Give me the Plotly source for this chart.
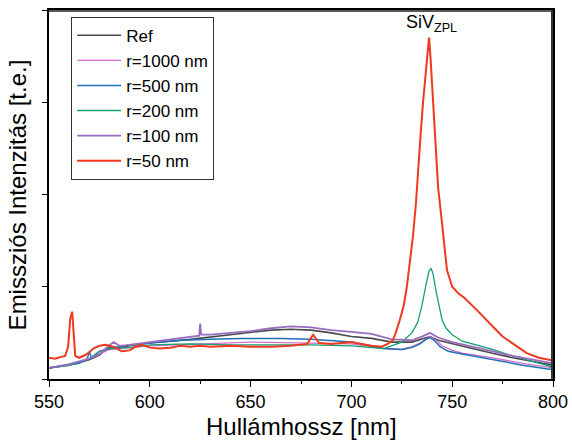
import plotly.graph_objects as go

# ---- data ----
ref_x = [550, 560, 570, 575, 580, 585, 590, 600, 620, 640, 660, 670, 680, 690, 700, 710, 720, 730, 735, 739, 743, 750, 760, 770, 780, 790, 800]
ref_y = [0.12, 0.15, 0.21, 0.26, 0.35, 0.34, 0.36, 0.39, 0.43, 0.48, 0.53, 0.54, 0.53, 0.50, 0.46, 0.44, 0.40, 0.40, 0.43, 0.46, 0.42, 0.38, 0.33, 0.28, 0.23, 0.19, 0.15]

r1000_x = [550, 560, 570, 580, 600, 650, 700, 716, 725, 730, 735, 739, 742, 745, 750, 755, 770, 785, 800]
r1000_y = [0.12, 0.15, 0.22, 0.32, 0.36, 0.40, 0.38, 0.33, 0.32, 0.35, 0.40, 0.46, 0.42, 0.36, 0.31, 0.28, 0.23, 0.17, 0.12]

r500_x = [550, 560, 565, 569, 570, 571, 575, 580, 590, 600, 616, 630, 645, 665, 680, 700, 710, 716, 725, 730, 734, 737, 739, 741, 744, 748, 755, 770, 785, 800]
r500_y = [0.12, 0.15, 0.17, 0.22, 0.30, 0.23, 0.30, 0.33, 0.37, 0.39, 0.42, 0.43, 0.44, 0.44, 0.43, 0.40, 0.36, 0.33, 0.32, 0.34, 0.38, 0.43, 0.45, 0.42, 0.35, 0.30, 0.27, 0.21, 0.15, 0.10]

r200_x = [550, 560, 570, 575, 580, 590, 600, 620, 640, 660, 680, 700, 716, 725, 730, 733, 735, 737, 738.5, 739.5, 740.5, 742, 743.5, 745, 747, 750, 755, 760, 770, 780, 790, 800]
r200_y = [0.12, 0.15, 0.22, 0.30, 0.33, 0.34, 0.37, 0.38, 0.37, 0.37, 0.37, 0.36, 0.33, 0.40, 0.50, 0.62, 0.80, 1.02, 1.17, 1.20, 1.14, 0.95, 0.78, 0.64, 0.55, 0.48, 0.41, 0.38, 0.32, 0.25, 0.19, 0.13]

r100_x = [550, 560, 570, 575, 578, 582, 585, 590, 600, 610, 620, 624.5, 625, 625.5, 630, 640, 650, 660, 670, 680, 690, 700, 710, 720, 730, 735, 739, 743, 750, 760, 770, 780, 790, 800]
r100_y = [0.12, 0.16, 0.22, 0.27, 0.33, 0.40, 0.36, 0.37, 0.40, 0.43, 0.46, 0.47, 0.60, 0.48, 0.48, 0.50, 0.52, 0.55, 0.57, 0.56, 0.53, 0.51, 0.49, 0.43, 0.42, 0.46, 0.50, 0.45, 0.40, 0.35, 0.30, 0.25, 0.21, 0.17]

r50_x = [550, 553, 556, 558, 559.5, 560.5, 561.5, 562.3, 563, 565, 568, 570, 572, 575, 578, 580, 583, 586, 590, 593, 596, 600, 605, 610, 615, 620, 625, 630, 640, 650, 660, 670, 678, 681, 684, 690, 700, 705, 710, 715, 718, 720.5, 722, 724, 726, 727.5, 729, 730.5, 732, 733, 734.5, 735.5, 736.5, 737.5, 738.5, 739.2, 740, 741.5, 743, 744.8, 746, 747.4, 750, 753, 756, 759, 763, 767, 771, 775, 781, 787, 793, 800]
r50_y = [0.23, 0.22, 0.24, 0.25, 0.35, 0.65, 0.73, 0.50, 0.25, 0.23, 0.26, 0.29, 0.33, 0.36, 0.37, 0.36, 0.34, 0.30, 0.31, 0.35, 0.37, 0.34, 0.33, 0.34, 0.36, 0.35, 0.36, 0.35, 0.36, 0.35, 0.35, 0.36, 0.38, 0.48, 0.39, 0.38, 0.40, 0.38, 0.36, 0.35, 0.38, 0.42, 0.50, 0.64, 0.80, 1.00, 1.25, 1.54, 1.90, 2.27, 2.70, 2.99, 3.25, 3.46, 3.70, 3.50, 3.17, 2.62, 2.08, 1.72, 1.45, 1.18, 1.00, 0.93, 0.88, 0.82, 0.73, 0.64, 0.55, 0.46, 0.37, 0.28, 0.23, 0.20]

x_ticks = [550, 600, 650, 700, 750, 800]

series = [
    ("Ref", ref_x, ref_y, "#4a4a4a", 1.6),
    ("r=1000 nm", r1000_x, r1000_y, "#d36fc6", 1.3),
    ("r=500 nm", r500_x, r500_y, "#1f6fb8", 1.5),
    ("r=200 nm", r200_x, r200_y, "#11a172", 1.3),
    ("r=100 nm", r100_x, r100_y, "#9a6cc0", 1.8),
    ("r=50 nm", r50_x, r50_y, "#f0391f", 2.0),
]

FONT = "Liberation Sans, Arial, sans-serif"

fig = go.Figure()
for name, xs, ys, col, w in series:
    fig.add_trace(go.Scatter(x=xs, y=ys, mode="lines", name=name,
                             line=dict(color=col, width=w)))

fig.update_layout(
    width=572, height=441,
    margin=dict(l=49, r=19, t=10, b=62, autoexpand=False),
    plot_bgcolor="white", paper_bgcolor="white",
    font=dict(family=FONT, color="black"),
    showlegend=True,
    legend=dict(x=0.044, y=0.982, xanchor="left", yanchor="top",
                bordercolor="#333333", borderwidth=1, bgcolor="white",
                font=dict(size=17, family=FONT), tracegroupgap=0,
                itemwidth=44),
    xaxis=dict(range=[550, 800], tickvals=x_ticks, ticks="outside", ticklen=6,
               tickwidth=1, tickcolor="black",
               minor=dict(dtick=25, tick0=550, ticks="outside", ticklen=3, tickcolor="black"),
               showline=True, linecolor="black", linewidth=1.5, mirror=True,
               showgrid=False, zeroline=False, automargin=False,
               tickfont=dict(size=18, family=FONT)),
    yaxis=dict(range=[0, 4], tickvals=[0, 1, 2, 3, 4], showticklabels=False,
               ticks="outside", ticklen=5, tickcolor="black",
               showline=True, linecolor="black", linewidth=1.5, mirror=True,
               showgrid=False, zeroline=False, automargin=False),
)

# plot frame (top / right borders), drawn just inside the plot edge
fig.add_shape(type="line", xref="paper", yref="paper", x0=0, x1=1, y0=0.997, y1=0.997,
              line=dict(color="#222222", width=1.5), layer="above")
fig.add_shape(type="line", xref="paper", yref="paper", x0=0.998, x1=0.998, y0=0, y1=1,
              line=dict(color="#333333", width=2), layer="above")

fig.add_annotation(xref="paper", yref="paper", x=0.5, y=-0.088, yanchor="top",
                   text="Hullámhossz [nm]", showarrow=False,
                   font=dict(size=24, family=FONT))
fig.add_annotation(xref="paper", yref="paper", x=-0.031, y=0.5, xanchor="right",
                   text="Emissziós Intenzitás [t.e.]", textangle=-90, showarrow=False,
                   font=dict(size=24, family=FONT))

fig.add_annotation(x=739.5, y=3.7, yshift=1, text="SiV<sub>ZPL</sub>", showarrow=False,
                   xanchor="center", yanchor="bottom", font=dict(size=18, family=FONT))

fig.write_html("out.html", config={"displayModeBar": False},
               post_script="document.body.style.margin='0';document.body.style.overflow='hidden';")
